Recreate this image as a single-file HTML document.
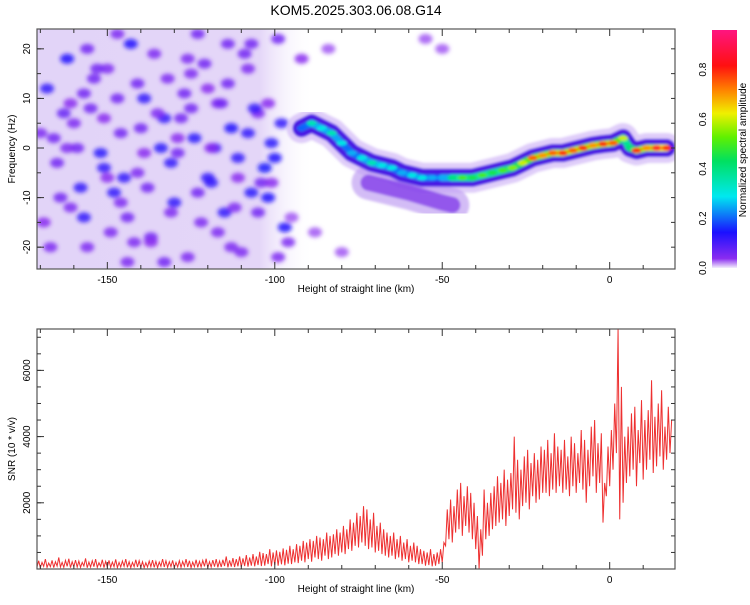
<!DOCTYPE html>
<html><head><meta charset="utf-8"><style>
body{margin:0;background:#fff;font-family:"Liberation Sans",sans-serif}
svg text{font-family:"Liberation Sans",sans-serif;fill:#000}
</style></head><body>
<svg id="chart" width="750" height="600" viewBox="0 0 750 600">
<defs>
<linearGradient id="cbar" x1="0" y1="1" x2="0" y2="0">
<stop offset="0" stop-color="#f4eefc"/><stop offset="0.04" stop-color="#8a2cf0"/>
<stop offset="0.15" stop-color="#1a10ff"/><stop offset="0.3" stop-color="#00e8f0"/>
<stop offset="0.45" stop-color="#00e060"/><stop offset="0.55" stop-color="#60f000"/>
<stop offset="0.65" stop-color="#f0f000"/><stop offset="0.75" stop-color="#ff8000"/>
<stop offset="0.85" stop-color="#ff1010"/><stop offset="1" stop-color="#ff1480"/>
</linearGradient>
<linearGradient id="noiseFade" x1="0" x2="1" y1="0" y2="0">
<stop offset="0" stop-color="#e2d4f8"/><stop offset="0.8" stop-color="#e4d6f8"/><stop offset="1" stop-color="#ffffff" stop-opacity="0"/>
</linearGradient>
<filter id="blur2"><feGaussianBlur stdDeviation="2"/></filter>
<filter id="blur1"><feGaussianBlur stdDeviation="1.2"/></filter>
<clipPath id="topClip"><rect x="37" y="29" width="638" height="240"/></clipPath>
<clipPath id="botClip"><rect x="37" y="329" width="638" height="240"/></clipPath>
</defs>
<text x="356" y="15" font-size="14" text-anchor="middle">KOM5.2025.303.06.08.G14</text>
<g id="topPanel"></g>
<g id="cbPanel"></g>
<g id="botPanel"></g>
</svg>
<script>
// ---- data ----
const xTicks = [-150, -100, -50, 0];
const fTicks = [-20, -10, 0, 10, 20];
const snrTicks = [2000, 4000, 6000];
const cbTicks = [0.0, 0.2, 0.4, 0.6, 0.8];
const ridgeX = [-92,-89,-86,-83,-80,-77,-74,-71,-68,-65,-62,-59,-56,-53,-50,-47,-44,-41,-38,-35,-32,-29,-26,-23,-20,-17,-14,-11,-8,-5,-2,1,4,6,8,11,14,17];
const ridgeF = [4,5,4,3,1,-1,-2,-3,-3.5,-4,-5,-5.5,-6,-6,-6,-6,-6,-6,-5.5,-5,-4.5,-4,-3,-2,-1.5,-1,-1,-0.5,0,0.5,0.8,1,2,0,-0.5,0,0,0];
const ridgeA = [0.2,0.35,0.3,0.35,0.3,0.25,0.3,0.35,0.3,0.3,0.25,0.3,0.3,0.25,0.25,0.4,0.5,0.45,0.5,0.45,0.5,0.55,0.6,0.75,0.7,0.75,0.8,0.75,0.8,0.7,0.8,0.75,0.6,0.4,0.8,0.7,0.85,0.8];
const branchX = [-72,-66,-60,-55,-50,-47];
const branchF = [-7,-8,-9,-10,-11,-11.5];
const noiseX = [-168,-165,-162,-160,-157,-155,-152,-150,-148,-146,-143,-141,-139,-137,-134,-132,-130,-128,-126,-124,-121,-119,-117,-115,-113,-111,-109,-107,-105,-103,-101,-99,-97,-167,-163,-158,-154,-149,-145,-140,-136,-131,-127,-122,-118,-114,-110,-106,-102,-98,-166,-161,-156,-151,-147,-142,-138,-133,-129,-125,-120,-116,-112,-108,-104,-100,-96,-159,-144,-123,
-170,-164,-161,-156,-153,-150,-147,-144,-139,-135,-133,-129,-126,-123,-120,-117,-114,-111,-108,-105,-102,-99,-169,-162,-157,-151,-146,-141,-137,-131,-125,-119,-113,-107,-101,-95,-92,-88,-84,-80,-55,-50];
const noiseF = [12,-3,18,5,-14,8,-1,16,-9,3,21,-5,10,-18,0,14,-11,6,-22,2,17,-7,9,-13,4,-2,19,-9,7,-4,1,22,-16,-20,7,-8,14,-17,-6,4,19,-3,11,-15,0,13,-21,8,-10,5,2,-12,20,-4,10,-19,-8,6,-1,15,-6,9,-12,3,-7,-2,-19,0,-23,23,
3,-10,9,-20,16,-6,23,-14,-1,7,-23,2,18,-9,12,-17,21,-6,16,-13,9,-22,-15,0,11,6,-11,13,-19,-13,8,0,-20,21,-7,-14,18,-17,20,-21,22,20];
const noiseA = [0.12,0.06,0.14,0.05,0.12,0.06,0.13,0.05,0.12,0.06,0.14,0.05,0.12,0.06,0.13,0.05,0.12,0.06,0.05,0.13,0.06,0.12,0.05,0.12,0.14,0.12,0.06,0.13,0.05,0.15,0.13,0.06,0.14,0.05,0.07,0.12,0.06,0.05,0.12,0.06,0.05,0.12,0.06,0.05,0.12,0.06,0.05,0.12,0.14,0.12,0.06,0.05,0.06,0.12,0.06,0.05,0.06,0.12,0.06,0.05,0.12,0.06,0.05,0.12,0.06,0.14,0.05,0.06,0.05,0.06,
0.05,0.06,0.04,0.05,0.06,0.04,0.05,0.06,0.04,0.05,0.06,0.04,0.05,0.06,0.04,0.05,0.06,0.04,0.05,0.06,0.04,0.05,0.04,0.05,0.06,0.04,0.05,0.06,0.04,0.05,0.06,0.04,0.05,0.06,0.04,0.03,0.04,0.03,0.03,0.03,0.03,0.03];
const snrStart = -171;
const snrLow = [
60,40,80,50,70,40,90,60,50,80,40,70,60,50,90,40,60,70,50,80,40,60,50,70,40,60,80,50,40,70,60,50,40,60,70,50,40,80,60,50,70,40,60,50,80,60,40,70,50,60,80,40,60,70,50,60,90,50,70,60,80,
60,90,70,100,80,120,90,100,150,80,120,100,140,110,160,
150,200,180,250,200,300,220,350,300,250,400,300,350,450,400,
500,450,600,550,700,650,800,700,600,650,500,550,450,400,350,
400,300,350,250,300,200,250,200,150,150,
100,120,80,100,150,200,
700,900,800,1100,1200,1000,1300,1100,900,
600,0,400,900,1000,
1200,1300,1400,1500,1300,1600,
1800,1700,1500,1900,2000,1800,2200,2000,2100,2300,
2300,2200,2400,2300,2500,2300,2400,2200,2500,2300,
2600,2400,2000,2500,2800,2300,2600,1400,2200,
2500,3000,3500,1500,2000,
2600,2800,3000,2500,3200,2700,3000,3300,2900,3100,3400,3000,3300,3500];
const snrHigh = [
250,200,300,180,260,220,350,200,260,310,220,270,240,200,320,210,250,300,190,280,230,260,210,290,200,240,300,220,200,280,250,220,190,240,270,230,210,300,250,220,260,200,250,230,300,250,210,280,230,260,310,220,270,300,240,280,380,260,330,300,380,
320,420,350,450,380,520,480,450,600,500,560,520,620,580,700,
600,750,700,850,800,900,850,1000,950,900,1100,1000,1050,1200,1100,
1300,1200,1500,1400,1700,1600,1900,1800,1500,1700,1300,1400,1200,1100,1000,
1100,900,1000,800,900,700,800,700,600,550,
500,600,450,500,600,800,
1800,2100,1900,2400,2600,2200,2500,2300,2000,
1600,1200,2400,2000,2300,
2500,2800,2600,3000,2700,2900,
4000,3300,3000,3400,3600,3200,3500,3300,3700,3600,
3900,3500,4100,3700,3600,3900,3400,4000,3800,3500,
4200,3900,3600,4300,4500,3800,4100,2600,3700,
4200,5000,7250,5500,4000,
4300,4700,4900,4200,5100,4500,4800,5700,4600,5000,5400,4300,4900,4500];

// ---- scales ----
const NS='http://www.w3.org/2000/svg';
const X0=37,X1=675,XMIN=-171,XMAX=19.5;
const sx=v=>X0+(v-XMIN)/(XMAX-XMIN)*(X1-X0);
const TY0=29,TY1=269,FMIN=-24.4,FMAX=24;
const sf=v=>TY1-(v-FMIN)/(FMAX-FMIN)*(TY1-TY0);
const BY0=329,BY1=569,SMAX=7250;
const ss=v=>BY1-v/SMAX*(BY1-BY0);
const CBY0=30,CBY1=268,CMAX=0.96;
const sc=v=>CBY1-v/CMAX*(CBY1-CBY0);
function el(t,a,p){const e=document.createElementNS(NS,t);for(const k in a)e.setAttribute(k,a[k]);p.appendChild(e);return e;}
function cmap(a){
  const st=[[0,[244,238,252]],[0.04,[138,44,240]],[0.15,[26,16,255]],[0.3,[0,232,240]],[0.45,[0,224,96]],[0.55,[96,240,0]],[0.65,[240,240,0]],[0.75,[255,128,0]],[0.85,[255,16,16]],[1,[255,20,128]]];
  const v=a/CMAX;
  for(let i=1;i<st.length;i++){if(v<=st[i][0]){const t=(v-st[i-1][0])/(st[i][0]-st[i-1][0]);const c=st[i-1][1].map((q,j)=>Math.round(q+(st[i][1][j]-q)*t));return `rgb(${c})`;}}
  return 'rgb(255,20,128)';
}

// ---- top spectrogram ----
const topG=document.getElementById('topPanel');
const tg=el('g',{'clip-path':'url(#topClip)'},topG);
const bg=el('rect',{x:X0,y:TY0,width:sx(-88)-X0,height:TY1-TY0,fill:'url(#noiseFade)'},tg);


const ng=el('g',{filter:'url(#blur2)'},tg);
noiseX.forEach((x,i)=>{
  const c=el('ellipse',{cx:sx(x),cy:sf(noiseF[i]),rx:7,ry:5,fill:cmap(noiseA[i]),opacity:0.85},ng);
  
  
});
const rg=el('g',{filter:'url(#blur1)'},tg);
const pts=ridgeX.map((x,i)=>sx(x)+','+sf(ridgeF[i])).join(' ');
const halo2=el('polyline',{points:pts,fill:'none',stroke:'#d2b8f6',"stroke-width":30,"stroke-linejoin":'round',"stroke-linecap":'round',opacity:0.7},rg);


const bpts=branchX.map((x,i)=>sx(x)+','+sf(branchF[i])).join(' ');
const br2=el('polyline',{points:bpts,fill:'none',stroke:'#c0a0f2',"stroke-width":34,"stroke-linecap":'round',opacity:0.7},rg);


const br=el('polyline',{points:bpts,fill:'none',stroke:'#7020e6',"stroke-width":16,"stroke-linecap":'round',opacity:0.65},rg);


const halo=el('polyline',{points:pts,fill:'none',stroke:'#4a14e4',"stroke-width":18,"stroke-linejoin":'round',"stroke-linecap":'round'},rg);


for(let i=0;i<ridgeX.length-1;i++){
  const s=el('line',{x1:sx(ridgeX[i]),y1:sf(ridgeF[i]),x2:sx(ridgeX[i+1]),y2:sf(ridgeF[i+1]),stroke:cmap((ridgeA[i]+ridgeA[i+1])/2*0.75),"stroke-width":7,"stroke-linecap":'round'},rg);
  
  
}
ridgeX.forEach((x,i)=>{
  const e=el('ellipse',{cx:sx(x),cy:sf(ridgeF[i]),rx:5,ry:2.5,fill:cmap(ridgeA[i])},rg);
  
  
});
function frame(g,y0,y1,yt,sy,fmt,ylabel,ylabelX,minorStep,minorMin,minorMax){
  const f=el('rect',{x:X0,y:y0,width:X1-X0,height:y1-y0,fill:'none',stroke:'#555',"stroke-width":1.2},g);
  
  
  for(let v=-170;v<=15;v+=10){
    const big=v%50===0;
    el('line',{x1:sx(v),x2:sx(v),y1:y1,y2:y1-(big?7:4),stroke:'#333'},g);
    el('line',{x1:sx(v),x2:sx(v),y1:y0,y2:y0+(big?7:4),stroke:'#333'},g);
  }
  xTicks.forEach(v=>{
    const t=el('text',{x:sx(v),y:y1+14,"font-size":10,"text-anchor":'middle'},g);t.textContent=v;
    
    
  });
  const xl=el('text',{x:356,y:y1+23,"font-size":10,"text-anchor":'middle'},g);xl.textContent='Height of straight line (km)';
  
  
  for(let v=minorMin;v<=minorMax;v+=minorStep){
    el('line',{x1:X0,x2:X0+4,y1:sy(v),y2:sy(v),stroke:'#333'},g);
    el('line',{x1:X1,x2:X1-4,y1:sy(v),y2:sy(v),stroke:'#333'},g);
  }
  yt.forEach(v=>{
    el('line',{x1:X0,x2:X0+7,y1:sy(v),y2:sy(v),stroke:'#333'},g);
    const t=el('text',{x:30,y:sy(v),"font-size":10,"text-anchor":'middle',transform:`rotate(-90 30 ${sy(v)})`},g);t.textContent=fmt(v);
    
    
  });
  const yl=el('text',{x:ylabelX,y:(y0+y1)/2,"font-size":10,"text-anchor":'middle',transform:`rotate(-90 ${ylabelX} ${(y0+y1)/2})`},g);yl.textContent=ylabel;
  
  
}
frame(topG,TY0,TY1,fTicks,sf,v=>v,'Frequency (Hz)',15,5,-20,20);

// ---- colorbar ----
const cbG=document.getElementById('cbPanel');
const cr=el('rect',{x:712,y:CBY0,width:25,height:CBY1-CBY0,fill:'url(#cbar)'},cbG);


cbTicks.forEach(v=>{
  const t=el('text',{x:706,y:sc(v),"font-size":10,"text-anchor":'middle',transform:`rotate(-90 706 ${sc(v)})`},cbG);t.textContent=v.toFixed(1);
  
  
});
const cl=el('text',{x:746,y:150,"font-size":10,"text-anchor":'middle',transform:'rotate(-90 746 150)'},cbG);cl.textContent='Normalized spectral amplitude';



// ---- bottom SNR ----
const botG=document.getElementById('botPanel');
const bgp=el('g',{'clip-path':'url(#botClip)'},botG);
let p=[];
snrLow.forEach((lo,i)=>{const x=snrStart+i;p.push(sx(x)+','+ss(lo));p.push(sx(x+0.5)+','+ss(snrHigh[i]));});
const line=el('polyline',{points:p.join(' '),fill:'none',stroke:'#ee3030',"stroke-width":1},bgp);


frame(botG,BY0,BY1,snrTicks,ss,v=>v,'SNR (10 * v/v)',15,500,500,7000);
</script>
</body></html>
